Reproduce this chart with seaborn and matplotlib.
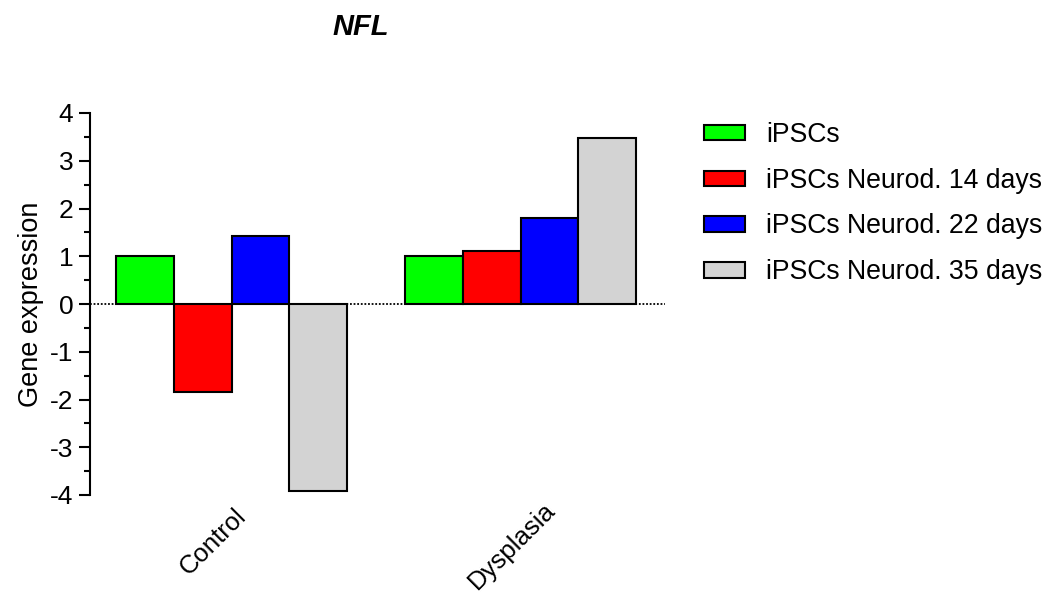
import matplotlib
matplotlib.use("Agg")
import matplotlib.pyplot as plt
from matplotlib.ticker import MultipleLocator
from matplotlib.transforms import offset_copy
import pandas as pd
import seaborn as sns

# Relative NFL expression per group and differentiation stage
groups = ["Control", "Dysplasia"]
conditions = ["iPSCs", "iPSCs Neurod. 14 days", "iPSCs Neurod. 22 days", "iPSCs Neurod. 35 days"]
control_values = [1.0, -1.85, 1.43, -3.92]
dysplasia_values = [1.0, 1.10, 1.80, 3.48]
bar_colors = ["#00FF00", "#FF0000", "#0000FF", "#D3D3D3"]

rows = []
for cond, c_val, d_val in zip(conditions, control_values, dysplasia_values):
    rows.append({"group": groups[0], "condition": cond, "value": c_val})
    rows.append({"group": groups[1], "condition": cond, "value": d_val})
df = pd.DataFrame(rows)

sns.set_style("ticks")
plt.rcParams["font.family"] = ["Liberation Sans", "DejaVu Sans"]
plt.rcParams["axes.unicode_minus"] = False
for key in ["text.color", "axes.labelcolor", "xtick.color", "ytick.color", "axes.edgecolor"]:
    plt.rcParams[key] = "black"

fig = plt.figure(figsize=(10.57, 5.94), dpi=100)
ax = fig.add_axes([90 / 1057, 1 - 495 / 594, (665 - 90) / 1057, (495 - 113) / 594])

sns.barplot(
    data=df, x="group", y="value", hue="condition",
    order=groups, hue_order=conditions, palette=bar_colors,
    saturation=1, edgecolor="black", linewidth=1.5, errorbar=None, ax=ax,
)

# dotted baseline at zero
ax.axhline(0, color="black", linewidth=1.3, linestyle=(0, (1, 1)), zorder=0)

ax.set_ylim(-4, 4)
ax.set_xlim(-0.49, 1.50)
ax.yaxis.set_major_locator(MultipleLocator(1))
ax.yaxis.set_minor_locator(MultipleLocator(0.5))
ax.tick_params(axis="y", which="major", length=8, width=1.5, labelsize=19, pad=4)
ax.tick_params(axis="y", which="minor", length=4, width=1.5)
ax.tick_params(axis="x", length=0, labelsize=18.5, pad=4)

sns.despine(ax=ax, bottom=True)
ax.spines["left"].set_linewidth(1.5)
ax.set_xlabel("")
ax.set_ylabel("Gene expression", fontsize=19.5, labelpad=4)

ax.set_title("NFL", fontsize=21, fontweight="bold", fontstyle="italic",
             x=0.471, y=1.225, va="center", pad=0)

# rotated group labels, each nudged to sit under its bar cluster
label_shift_px = {"Control": (2, -3), "Dysplasia": (22, 3)}
for lbl in ax.get_xticklabels():
    lbl.set_rotation(45)
    lbl.set_ha("right")
    lbl.set_rotation_mode("anchor")
    dx, dy = label_shift_px.get(lbl.get_text(), (0, 0))
    lbl.set_transform(offset_copy(lbl.get_transform(), fig=fig, x=dx * 0.72, y=dy * 0.72, units="points"))

handles, labels = ax.get_legend_handles_labels()
ax.legend(
    handles, labels, loc="upper left", frameon=False,
    bbox_to_anchor=(704 / 1057, 1 - 122 / 594), bbox_transform=fig.transFigure,
    fontsize=19.2, borderpad=0, borderaxespad=0, labelspacing=0.74,
    handlelength=1.53, handleheight=0.52, handletextpad=0.8,
)

fig.savefig("out.png", dpi=100)
